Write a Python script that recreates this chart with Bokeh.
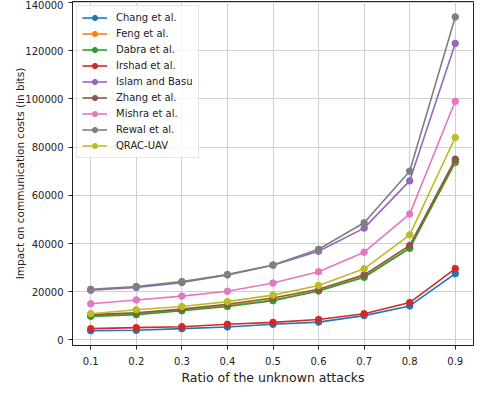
from bokeh.plotting import figure
from bokeh.models import FixedTicker, Legend, LegendItem, NumeralTickFormatter, Range1d
from bokeh.embed import file_html
from bokeh.resources import INLINE

ratios = [0.1, 0.2, 0.3, 0.4, 0.5, 0.6, 0.7, 0.8, 0.9]

chang = [3800, 4000, 4700, 5400, 6500, 7400, 10100, 14100, 27500]
feng = [10200, 11000, 12600, 14300, 16600, 20400, 26200, 38200, 73500]
dabra = [9800, 10500, 12100, 13900, 16300, 20300, 26000, 38000, 74000]
irshad = [4700, 5100, 5500, 6500, 7300, 8500, 10900, 15500, 29600]
islam = [20600, 21800, 23800, 27000, 31000, 36800, 46400, 66000, 123000]
zhang = [10500, 11300, 12800, 14800, 17400, 21000, 27000, 39200, 75000]
mishra = [15000, 16600, 18200, 20200, 23600, 28300, 36400, 52200, 99000]
rewal = [21000, 22200, 24200, 27100, 31100, 37600, 48600, 70000, 134000]
qrac = [10900, 12500, 13900, 15900, 18600, 22600, 29500, 43600, 84000]

series = [
    ("Chang et al.", chang, "#1f77b4"),
    ("Feng et al.", feng, "#ff7f0e"),
    ("Dabra et al.", dabra, "#2ca02c"),
    ("Irshad et al.", irshad, "#d62728"),
    ("Islam and Basu", islam, "#9467bd"),
    ("Zhang et al.", zhang, "#8c564b"),
    ("Mishra et al.", mishra, "#e377c2"),
    ("Rewal et al.", rewal, "#7f7f7f"),
    ("QRAC-UAV", qrac, "#bcbd22"),
]

x_ticks = [0.1, 0.2, 0.3, 0.4, 0.5, 0.6, 0.7, 0.8, 0.9]
y_ticks = [0, 20000, 40000, 60000, 80000, 100000, 120000, 140000]

p = figure(width=475, height=387, output_backend="svg", toolbar_location=None,
           x_range=Range1d(0.06, 0.94), y_range=Range1d(-2300, 140400),
           min_border_left=72, min_border_right=2, min_border_top=1, min_border_bottom=38)

items = []
for name, vals, col in series:
    l = p.line(ratios, vals, line_color=col, line_width=1.6)
    c = p.scatter(ratios, vals, size=6.5, fill_color=col, line_color=col)
    items.append(LegendItem(label=name, renderers=[l, c]))

legend = Legend(items=items, location="top_left", label_text_font="DejaVu Sans",
                label_text_font_size="10px", label_text_color="#222222",
                glyph_width=25, glyph_height=13, label_height=13, spacing=3,
                padding=5, margin=4, border_line_color="#cccccc", border_line_width=1,
                background_fill_alpha=0.8, label_standoff=9)
p.add_layout(legend)

p.xaxis.ticker = FixedTicker(ticks=x_ticks)
p.yaxis.ticker = FixedTicker(ticks=y_ticks)
p.yaxis.formatter = NumeralTickFormatter(format="0")

for ax in (p.xaxis, p.yaxis):
    ax.major_label_text_font = "DejaVu Sans"
    ax.major_label_text_font_size = "10px"
    ax.major_label_text_color = "#222222"
    ax.axis_label_text_font = "DejaVu Sans"
    ax.axis_label_text_font_style = "normal"
    ax.axis_label_text_color = "#222222"
    ax.minor_tick_line_color = None
    ax.major_tick_out = 4
    ax.major_tick_in = 0
    ax.axis_line_color = "#222222"
    ax.major_tick_line_color = "#222222"

p.xaxis.axis_label = "Ratio of the unknown attacks"
p.yaxis.axis_label = "Impact on communication costs (in bits)"
p.xaxis.axis_label_text_font_size = "12.5px"
p.yaxis.axis_label_text_font_size = "10.5px"
p.xaxis.major_label_standoff = 7
p.xaxis.axis_label_standoff = 2
p.yaxis.axis_label_standoff = -4

p.outline_line_color = "#222222"
p.outline_line_width = 1
p.grid.grid_line_color = "#d0d0d0"
p.grid.grid_line_width = 1

open("out.html", "w").write(file_html(p, INLINE))
